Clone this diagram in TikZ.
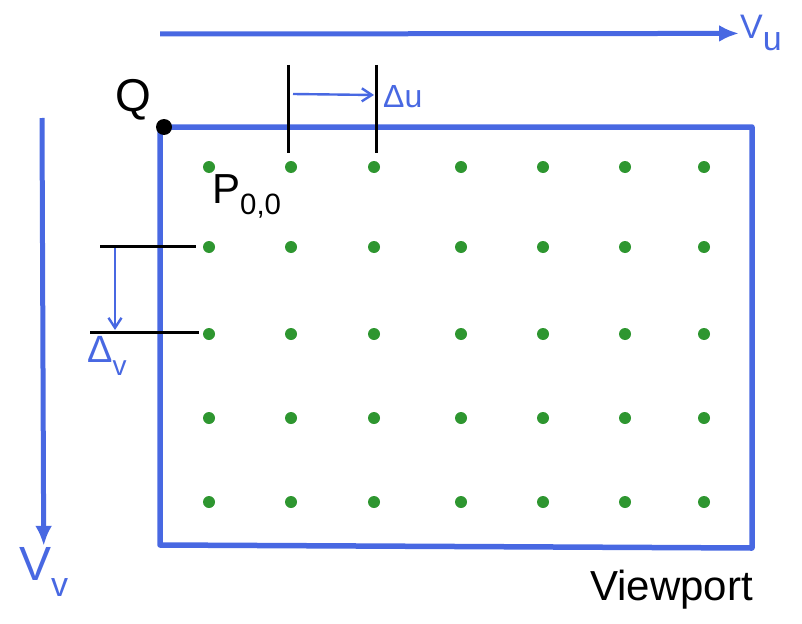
\documentclass[tikz,border=0pt]{standalone}
\usepackage{fontspec}
\setmainfont{Liberation Sans}
\usetikzlibrary{arrows.meta}
\definecolor{penblue}{RGB}{72,104,226}
\definecolor{pengreen}{RGB}{46,150,48}
\newcommand\dn[1]{\raisebox{-.35em}{#1}}
\begin{document}
\begin{tikzpicture}[x=1pt,y=-1pt,
  axis/.style={draw=penblue,line width=5pt,-{Latex[length=20pt,width=17pt]}},
  frame/.style={draw=penblue,line width=5.5pt,line join=round},
  tick/.style={draw=black,line width=3pt},
  gap/.style={draw=penblue,line width=2.4pt,-{Straight Barb[length=10pt,width=13pt]}},
  blu/.style={text=penblue,inner sep=1pt},
  dot/.style={circle,fill=pengreen,inner sep=0pt,minimum size=12pt}]
\useasboundingbox (0,0) rectangle (802,623);
\coordinate (tl) at (160,127);
\coordinate (tr) at (752,127);
\coordinate (br) at (752,548);
\coordinate (bl) at (160,545);
\draw[frame] (tl) -- (tr) -- (br) -- (bl) -- cycle;
\node[circle,fill=black,inner sep=0pt,minimum size=16pt] (Q) at (164,127) {};
\node[font=\fontsize{46}{50}\selectfont] (Qlabel) at (133,100) {Q};
\foreach \x [count=\i from 0] in {209,291,374,461,543,625,704}
  \foreach \y [count=\j from 0] in {167,247,334,418,502}
    \node[dot] (d-\j-\i) at (\x,\y) {};
\node[anchor=base west,font=\fontsize{42}{46}\selectfont,inner sep=0pt] (P00) at (212,203) {P\textsubscript{0,0}};
\coordinate (vu0) at (160,34);
\node[blu,anchor=base west,font=\fontsize{34}{38}\selectfont] (Vu) at (739,39) {V\dn{u}};
\draw[axis] (vu0) -- (Vu.west);
\coordinate (vv0) at (42,118);
\node[blu,anchor=base west,font=\fontsize{48}{52}\selectfont] (Vv) at (18,580) {V\dn{\fontsize{34}{36}\selectfont v}};
\draw[axis] (vv0) -- (Vv.north);
\coordinate (tu1a) at (288,65);
\coordinate (tu1b) at (288,153);
\coordinate (tu2a) at (376,65);
\coordinate (tu2b) at (376,153);
\draw[tick] (tu1a) -- (tu1b);
\draw[tick] (tu2a) -- (tu2b);
\coordinate (gu0) at (293,94);
\coordinate (gu1) at (374,95);
\draw[gap] (gu0) -- (gu1);
\node[blu,anchor=base west,font=\fontsize{32}{36}\selectfont] (du) at (382,107) {Δu};
\coordinate (tv1a) at (100,246);
\coordinate (tv1b) at (196,246);
\coordinate (tv2a) at (90,332);
\coordinate (tv2b) at (199,332);
\draw[tick] (tv1a) -- (tv1b);
\draw[tick] (tv2a) -- (tv2b);
\coordinate (gv0) at (115,248);
\coordinate (gv1) at (115,330);
\draw[gap] (gv0) -- (gv1);
\node[blu,anchor=base west,font=\fontsize{38}{42}\selectfont] (dv) at (86,362) {Δ\dn{\fontsize{28}{30}\selectfont v}};
\node[anchor=base west,font=\fontsize{42}{46}\selectfont,inner sep=0pt] (vp) at (590,600) {Viewport};
\end{tikzpicture}
\end{document}
